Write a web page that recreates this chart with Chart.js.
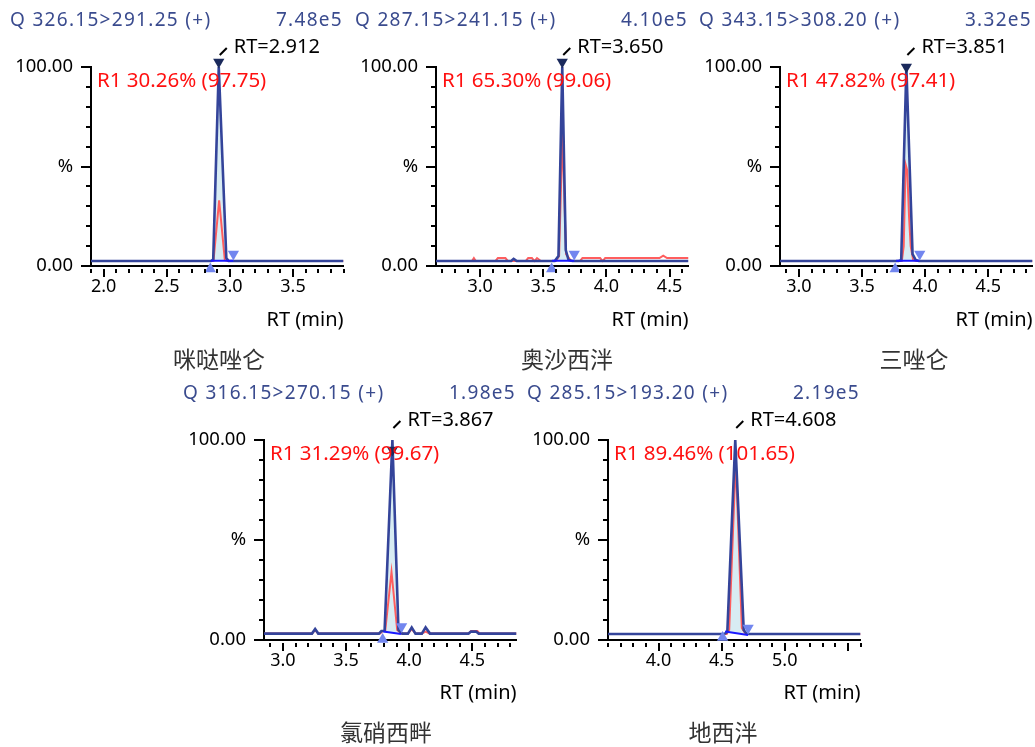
<!DOCTYPE html>
<html>
<head>
<meta charset="utf-8">
<script src="https://cdn.jsdelivr.net/npm/chart.js@4.4.1/dist/chart.umd.min.js"></script>
<style>
  html, body { margin: 0; padding: 0; background: #fff; width: 1035px; height: 747px; overflow: hidden; }
  canvas { position: absolute; }
</style>
</head>
<body>
<canvas id="c1" width="350" height="374" style="left:0px;top:0px"></canvas>
<canvas id="c2" width="350" height="374" style="left:345px;top:0px"></canvas>
<canvas id="c3" width="350" height="374" style="left:689px;top:0px"></canvas>
<canvas id="c4" width="350" height="374" style="left:173px;top:373px"></canvas>
<canvas id="c5" width="350" height="374" style="left:517px;top:373px"></canvas>
<script>
// ---- labels ----
const names = ['咪哒唑仑', '奥沙西泮', '三唑仑', '氯硝西畔', '地西泮'];
const transitions = ['Q 326.15>291.25 (+)', 'Q 287.15>241.15 (+)', 'Q 343.15>308.20 (+)', 'Q 316.15>270.15 (+)', 'Q 285.15>193.20 (+)'];
const intensities = ['7.48e5', '4.10e5', '3.32e5', '1.98e5', '2.19e5'];
const rtLabels = ['RT=2.912', 'RT=3.650', 'RT=3.851', 'RT=3.867', 'RT=4.608'];
const ratioLabels = ['R1 30.26% (97.75)', 'R1 65.30% (99.06)', 'R1 47.82% (97.41)', 'R1 31.29% (99.67)', 'R1 89.46% (101.65)'];
const apexRT = [2.912, 3.650, 3.851, 3.867, 4.608];

// ---- axes ----
const xMin = [1.9, 2.65, 2.85, 2.85, 3.6];
const xMax = [3.9, 4.65, 4.85, 4.85, 5.6];
const xTickLabels = [
  ['2.0', '2.5', '3.0', '3.5'],
  ['3.0', '3.5', '4.0', '4.5'],
  ['3.0', '3.5', '4.0', '4.5'],
  ['3.0', '3.5', '4.0', '4.5'],
  ['4.0', '4.5', '5.0']
];
const yTickValues = [0, 50, 100];
const yTickLabels = ['0.00', '%', '100.00'];

// ---- traces [RT, %] ----
const blue1 = [[1.9, 2.5], [2.85, 2.5], [2.868, 3.2], [2.912, 100], [2.972, 4], [2.99, 2.5], [3.9, 2.5]];
const red1 = [[1.9, 2.5], [2.87, 2.5], [2.915, 33], [2.96, 3], [2.98, 2.5], [3.9, 2.5]];
const base1 = [[2.848, 2.6], [3.028, 2.6]];
const apex1 = [[2.912, 102.5]];
const start1 = [[2.845, -1.5]];
const end1 = [[3.028, 6]];

const blue2 = [[2.65, 2.5], [3.245, 2.5], [3.265, 3.6], [3.29, 2.5], [3.59, 2.5], [3.62, 5], [3.65, 100], [3.678, 8], [3.7, 3], [3.73, 2.5], [4.65, 2.5]];
const red2 = [[2.65, 2.5], [2.935, 2.5], [2.95, 4], [2.965, 2.5], [3.12, 2.5], [3.14, 4], [3.2, 4], [3.22, 2.5], [3.36, 2.5], [3.38, 4], [3.41, 4], [3.43, 2.5],
  [3.45, 4], [3.48, 2.5], [3.6, 2.5], [3.625, 5], [3.652, 67], [3.68, 6], [3.72, 2.5], [3.79, 2.5], [3.81, 4], [3.95, 4], [3.97, 2.5], [3.99, 4],
  [4.42, 4], [4.45, 5.2], [4.48, 4], [4.65, 4]];
const base2 = [[3.57, 2.6], [3.745, 2.6]];
const apex2 = [[3.65, 102.5]];
const start2 = [[3.566, -1.5]];
const end2 = [[3.745, 6]];

const blue3 = [[2.85, 2.5], [3.79, 2.5], [3.81, 3], [3.851, 100], [3.9, 6], [3.925, 3], [3.95, 2.5], [4.85, 2.5]];
const red3 = [[2.85, 2.5], [3.815, 2.5], [3.83, 10], [3.845, 51], [3.858, 48], [3.872, 25], [3.885, 10], [3.905, 3], [3.93, 2.5], [4.85, 2.5]];
const base3 = [[3.77, 2.6], [3.955, 2.6]];
const apex3 = [[3.851, 100]];
const start3 = [[3.762, -1.5]];
const end3 = [[3.957, 6]];

const blue4 = [[2.85, 3.2], [3.23, 3.2], [3.255, 5.5], [3.28, 3.2], [3.76, 3.2], [3.78, 4.5], [3.805, 4.5], [3.867, 100], [3.915, 5], [3.945, 3.2],
  [3.99, 3.2], [4.02, 6.3], [4.05, 3.2], [4.1, 3.2], [4.13, 6.3], [4.165, 3.2], [4.47, 3.2], [4.49, 4.2], [4.53, 4.2], [4.55, 3.2], [4.85, 3.2]];
const red4 = [[2.85, 3.2], [3.23, 3.2], [3.255, 5], [3.28, 3.2], [3.77, 3.2], [3.79, 4.5], [3.81, 4.5], [3.86, 34], [3.905, 5], [3.94, 3.2],
  [3.99, 3.2], [4.02, 5.5], [4.05, 3.2], [4.1, 3.2], [4.13, 4.2], [4.16, 3.2], [4.47, 3.2], [4.49, 4.5], [4.54, 4.5], [4.56, 3.2], [4.85, 3.2]];
const base4 = [[3.795, 4.2], [3.935, 3.0]];
const apex4 = [[3.867, 95]];
const start4 = [[3.79, 0.3]];
const end4 = [[3.94, 6.7]];

const blue5 = [[3.6, 3], [4.52, 3], [4.545, 4], [4.608, 100], [4.675, 5], [4.7, 3], [5.6, 3]];
const red5 = [[3.6, 3], [4.54, 3], [4.56, 5], [4.612, 90], [4.66, 6], [4.69, 3], [5.6, 3]];
const base5 = [[4.527, 4.2], [4.709, 2.5]];
const apex5 = [[4.608, 103.5]];
const start5 = [[4.508, 1.2]];
const end5 = [[4.71, 6]];

const traces = [
  { blue: blue1, red: red1, base: base1, apex: apex1, start: start1, end: end1 },
  { blue: blue2, red: red2, base: base2, apex: apex2, start: start2, end: end2 },
  { blue: blue3, red: red3, base: base3, apex: apex3, start: start3, end: end3 },
  { blue: blue4, red: red4, base: base4, apex: apex4, start: start4, end: end4 },
  { blue: blue5, red: red5, base: base5, apex: apex5, start: start5, end: end5 }
];

// canvas layout: y-axis width, plot top, x-axis band height, name offset
const frames = [
  { yw: 91, top: 67, xh: 108, nameDx: 128 },
  { yw: 91, top: 67, xh: 108, nameDx: 131 },
  { yw: 91, top: 67, xh: 108, nameDx: 134 },
  { yw: 91, top: 67, xh: 107, nameDx: 122 },
  { yw: 91, top: 67, xh: 107, nameDx: 115 }
];

const FONT = '"Noto Sans", "Open Sans", sans-serif';

const panelDecor = {
  id: 'panelDecor',
  afterDraw(chart, args, o) {
    const { ctx, chartArea: a, scales: { x, y } } = chart;
    ctx.save();
    ctx.strokeStyle = '#000';
    ctx.lineWidth = 2;
    // tick marks
    x.ticks.forEach(t => {
      const px = Math.round(x.getPixelForValue(t.value));
      const major = Math.abs(t.value * 2 - Math.round(t.value * 2)) < 1e-6;
      ctx.beginPath();
      ctx.moveTo(px, a.bottom + 3);
      ctx.lineTo(px, a.bottom + (major ? 11 : 7));
      ctx.stroke();
    });
    y.ticks.forEach(t => {
      const py = Math.round(y.getPixelForValue(t.value));
      const major = Math.round(t.value) % 50 === 0;
      ctx.beginPath();
      ctx.moveTo(a.left - (major ? 10 : 5), py);
      ctx.lineTo(a.left, py);
      ctx.stroke();
    });

    // header
    ctx.textBaseline = 'alphabetic';
    ctx.font = '19px ' + FONT;
    ctx.letterSpacing = '1.3px';
    ctx.fillStyle = '#3a4b8e';
    ctx.textAlign = 'left';
    ctx.fillText(o.transition, a.left - 81, a.top - 41);
    ctx.textAlign = 'right';
    ctx.fillText(o.intensity, a.left + 252, a.top - 41);
    ctx.letterSpacing = '0px';

    // RT annotation
    const ax = x.getPixelForValue(o.apex);
    ctx.beginPath();
    ctx.lineWidth = 2;
    ctx.moveTo(ax + 1, a.top - 12);
    ctx.lineTo(ax + 8, a.top - 19);
    ctx.stroke();
    ctx.font = '20px ' + FONT;
    ctx.fillStyle = '#000';
    ctx.textAlign = 'left';
    ctx.fillText(o.rt, ax + 15, a.top - 14);

    // ion ratio
    ctx.font = '20.5px ' + FONT;
    ctx.fillStyle = '#ff1010';
    ctx.fillText(o.ratio, a.left + 6, a.top + 20);

    // compound name
    ctx.font = '23px "Noto Sans CJK SC", sans-serif';
    ctx.fillStyle = '#333';
    ctx.textAlign = 'center';
    ctx.textBaseline = 'middle';
    ctx.fillText(o.name, a.left + o.nameDx, a.top + 292);
    ctx.restore();
  }
};

function makeChart(i) {
  const tr = traces[i];
  const fr = frames[i];
  const b0 = tr.base[0][0];
  const b1 = tr.base[tr.base.length - 1][0];
  const area = [tr.base[0]].concat(tr.blue.filter(p => p[0] > b0 && p[0] < b1), [tr.base[tr.base.length - 1]]);
  const marks = [tr.start[0], tr.apex[0], tr.end[0]];

  return new Chart(document.getElementById('c' + (i + 1)), {
    type: 'line',
    data: {
      datasets: [
        {
          data: marks,
          showLine: false,
          pointStyle: 'triangle',
          pointRotation: [0, 180, 180],
          pointRadius: [6.5, 6.5, 6.5],
          pointBorderWidth: 0,
          pointBackgroundColor: ['#7286ef', '#1b2a5c', '#7286ef'],
          pointBorderColor: ['#7286ef', '#1b2a5c', '#7286ef'],
          clip: false
        },
        { data: tr.base, borderColor: '#1a1aff', borderWidth: 2, pointRadius: 0, tension: 0 },
        { data: tr.blue, borderColor: '#34449a', borderWidth: 2.6, pointRadius: 0, tension: 0 },
        { data: tr.red, borderColor: '#ff5e5e', borderWidth: 2, pointRadius: 0, tension: 0 },
        { data: area, borderWidth: 0, pointRadius: 0, backgroundColor: '#d8ecf3', fill: 1, tension: 0 }
      ]
    },
    options: {
      responsive: false,
      animation: false,
      devicePixelRatio: 1,
      layout: { padding: { top: fr.top, right: 3, left: 0, bottom: 0 } },
      scales: {
        x: {
          type: 'linear',
          min: xMin[i],
          max: xMax[i],
          afterFit: s => { s.height = fr.xh; },
          afterBuildTicks: s => {
            const ticks = [];
            for (let k = Math.ceil(s.min * 10 - 1e-6); k <= Math.floor(s.max * 10 + 1e-6); k++) ticks.push({ value: k / 10 });
            s.ticks = ticks;
          },
          grid: { display: false, drawTicks: true, tickLength: 10 },
          border: { display: true, color: '#000', width: 2 },
          ticks: {
            autoSkip: false,
            maxRotation: 0,
            padding: 0,
            color: '#000',
            font: { family: FONT, size: 18 },
            callback: v => {
              const s = (Math.round(v * 10) / 10).toFixed(1);
              return xTickLabels[i].includes(s) ? s : '';
            }
          },
          title: {
            display: true,
            text: 'RT (min)',
            align: 'end',
            color: '#000',
            font: { family: FONT, size: 20 },
            padding: { top: 0, bottom: 42 }
          }
        },
        y: {
          min: 0,
          max: 100,
          afterFit: s => { s.width = fr.yw; },
          grid: { display: false, drawTicks: true, tickLength: 18 },
          border: { display: true, color: '#000', width: 2 },
          ticks: {
            stepSize: 10,
            autoSkip: false,
            padding: 0,
            color: '#000',
            font: { family: FONT, size: 18.5 },
            callback: v => {
              const k = yTickValues.indexOf(Math.round(v));
              return k >= 0 ? yTickLabels[k] : '';
            }
          }
        }
      },
      plugins: {
        legend: { display: false },
        tooltip: { enabled: false },
        panelDecor: {
          transition: transitions[i],
          intensity: intensities[i],
          rt: rtLabels[i],
          ratio: ratioLabels[i],
          name: names[i],
          apex: apexRT[i],
          nameDx: fr.nameDx
        }
      }
    },
    plugins: [panelDecor]
  });
}

for (let i = 0; i < 5; i++) makeChart(i);
</script>
</body>
</html>
